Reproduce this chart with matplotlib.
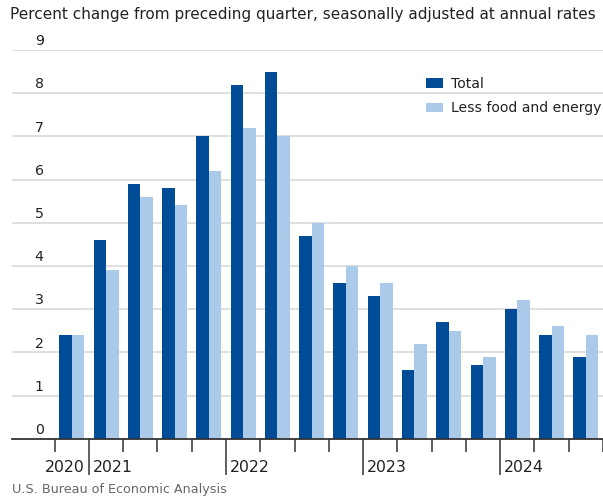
import matplotlib
matplotlib.use("Agg")
import matplotlib.pyplot as plt
import numpy as np

quarters = ["2020Q4",
            "2021Q1", "2021Q2", "2021Q3", "2021Q4",
            "2022Q1", "2022Q2", "2022Q3", "2022Q4",
            "2023Q1", "2023Q2", "2023Q3", "2023Q4",
            "2024Q1", "2024Q2", "2024Q3"]
total = [2.4, 4.6, 5.9, 5.8, 7.0, 8.2, 8.5, 4.7, 3.6, 3.3, 1.6, 2.7, 1.7, 3.0, 2.4, 1.9]
core = [2.4, 3.9, 5.6, 5.4, 6.2, 7.2, 7.0, 5.0, 4.0, 3.6, 2.2, 2.5, 1.9, 3.2, 2.6, 2.4]
year_labels = ["2020", "2021", "2022", "2023", "2024"]
yticks = [0, 1, 2, 3, 4, 5, 6, 7, 8, 9]

DARK = "#004c97"
LIGHT = "#abcae9"
FONT = "DejaVu Sans"

fig = plt.figure(figsize=(6.03, 4.97), dpi=100)
ax = fig.add_axes([12/603, 1 - 438.7/497, 591/603, (438.7 - 50)/497])

x = np.arange(len(quarters))
w = 0.366
b1 = ax.bar(x - w/2, total, width=w, color=DARK, label="Total", zorder=3)
b2 = ax.bar(x + w/2, core, width=w, color=LIGHT, label="Less food and energy", zorder=3)

ax.set_xlim(-1.744, len(quarters) - 1 + 0.44)
ax.set_ylim(0, 9)

for s in ["left", "right", "top"]:
    ax.spines[s].set_visible(False)
ax.spines["bottom"].set_color("#333333")
ax.spines["bottom"].set_linewidth(1.3)
ax.spines["bottom"].set_zorder(4)

# gridlines
for v in yticks[1:]:
    ax.axhline(v, color="#dcdcdc", lw=1.3, zorder=1)
ax.set_yticks([])

# y labels sitting above gridlines
for v in yticks:
    ax.text(0.046, v + 0.04, str(v), transform=ax.get_yaxis_transform(),
            ha="center", va="bottom", fontsize=10.2, color="#222222", family=FONT)

# x ticks at quarter boundaries
years = [q[:4] for q in quarters]
year_starts = [i for i in range(1, len(quarters)) if years[i] != years[i-1]]
bounds = np.arange(len(quarters) + 1) - 0.5
major = [i - 0.5 for i in year_starts]
minor = [b for b in bounds if b not in major]
ax.set_xticks(major)
ax.set_xticks(minor, minor=True)
ax.set_xticklabels([])
ax.tick_params(axis="x", which="major", length=26, width=1.1, color="#333333", direction="out")
ax.tick_params(axis="x", which="minor", length=9, width=1.1, color="#333333", direction="out")

# year labels
ax.annotate(year_labels[0], xy=(major[0], 0), xycoords=("data", "axes fraction"),
            xytext=(-3, -21), textcoords="offset points", ha="right", va="center",
            fontsize=11.3, color="#222222", family=FONT)
for lab, m in zip(year_labels[1:], major):
    ax.annotate(lab, xy=(m, 0), xycoords=("data", "axes fraction"),
                xytext=(3, -21), textcoords="offset points", ha="left", va="center",
                fontsize=11.3, color="#222222", family=FONT)

# legend
leg = ax.legend(handles=[b1, b2], loc="upper left",
                bbox_to_anchor=(426/603, 1 - 76.5/497), bbox_transform=fig.transFigure,
                frameon=False, borderpad=0, borderaxespad=0,
                handlelength=1.2, handleheight=0.7, handletextpad=0.55,
                labelspacing=0.78, prop={"family": FONT, "size": 10.1})
for t in leg.get_texts():
    t.set_color("#222222")

fig.text(10/603, 1 - 15/497, "Percent change from preceding quarter, seasonally adjusted at annual rates",
         ha="left", va="center", fontsize=11, color="#222222", family=FONT)
fig.text(12/603, 1 - 490/497, "U.S. Bureau of Economic Analysis",
         ha="left", va="center", fontsize=9.2, color="#666666", family=FONT)

fig.savefig("out.png", dpi=100)
